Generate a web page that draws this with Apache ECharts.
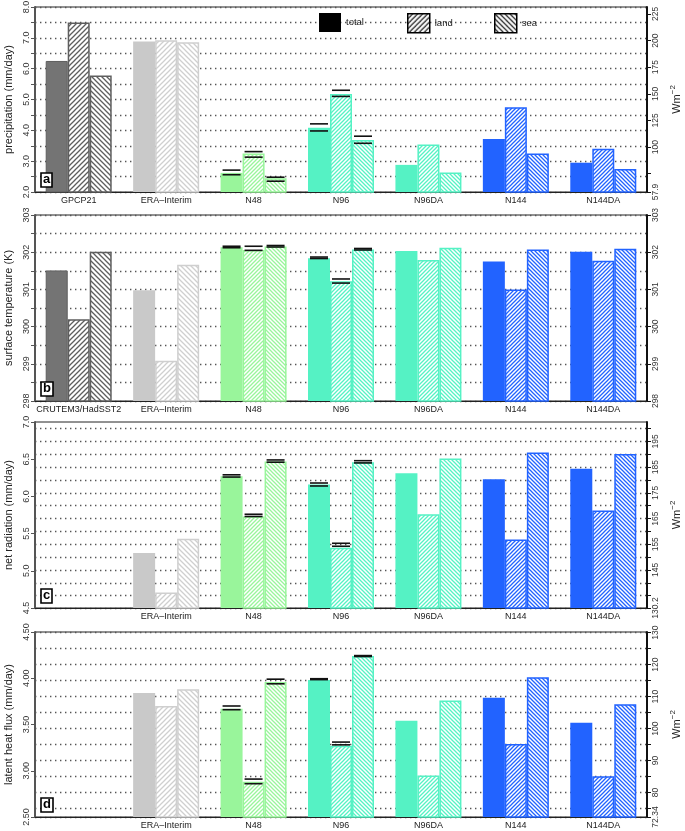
<!DOCTYPE html>
<html><head><meta charset="utf-8">
<script src="https://cdn.jsdelivr.net/npm/echarts@6/dist/echarts.min.js"></script>
<style>html,body{margin:0;padding:0;background:#fff}#c{width:685px;height:831px}</style>
</head><body><div id="c"></div>
<script>
// ---------------- DATA ----------------
const WM2 = 28.935; // mm/day -> W m^-2
const catsA = ['GPCP21', 'ERA\u2013Interim', 'N48', 'N96', 'N96DA', 'N144', 'N144DA'];
const catsB = ['CRUTEM3/HadSST2', 'ERA\u2013Interim', 'N48', 'N96', 'N96DA', 'N144', 'N144DA'];
const catsCD = ['', 'ERA\u2013Interim', 'N48', 'N96', 'N96DA', 'N144', 'N144DA'];

const precipTotal = [6.25, 6.88, 2.62, 4.08, 2.88, 3.72, 2.95];
const precipLand  = [7.50, 6.92, 3.25, 5.18, 3.54, 4.75, 3.40];
const precipSea   = [5.78, 6.86, 2.45, 3.69, 2.63, 3.25, 2.75];
const precipTotalRange = [null, null, [2.56, 2.71], [3.98, 4.21], null, null, null];
const precipLandRange  = [null, null, [3.13, 3.31], [5.10, 5.30], null, null, null];
const precipSeaRange   = [null, null, [2.35, 2.48], [3.58, 3.81], null, null, null];

const tempTotal = [301.51, 300.98, 302.13, 301.84, 302.03, 301.75, 302.01];
const tempLand  = [300.20, 299.08, 302.06, 301.22, 301.79, 301.00, 301.77];
const tempSea   = [302.01, 301.66, 302.15, 302.07, 302.12, 302.07, 302.09];
const tempTotalRange = [null, null, [302.12, 302.16], [301.83, 301.87], null, null, null];
const tempLandRange  = [null, null, [302.05, 302.16], [301.17, 301.28], null, null, null];
const tempSeaRange   = [null, null, [302.14, 302.18], [302.06, 302.10], null, null, null];

const netTotal = [null, 5.24, 6.27, 6.16, 6.31, 6.23, 6.37];
const netLand  = [null, 4.71, 5.73, 5.31, 5.76, 5.42, 5.81];
const netSea   = [null, 5.43, 6.47, 6.46, 6.51, 6.59, 6.57];
const netTotalRange = [null, null, [6.26, 6.29], [6.14, 6.18], null, null, null];
const netLandRange  = [null, null, [5.73, 5.76], [5.33, 5.37], null, null, null];
const netSeaRange   = [null, null, [6.46, 6.49], [6.45, 6.48], null, null, null];

const latTotal = [null, 3.84, 3.67, 3.98, 3.54, 3.79, 3.52];
const latLand  = [null, 3.70, 2.88, 3.27, 2.95, 3.29, 2.94];
const latSea   = [null, 3.88, 3.96, 4.24, 3.76, 4.01, 3.72];
const latTotalRange = [null, null, [3.66, 3.70], [3.985, 3.995], null, null, null];
const latLandRange  = [null, null, [2.86, 2.91], [3.28, 3.31], null, null, null];
const latSeaRange   = [null, null, [3.94, 3.99], [4.235, 4.245], null, null, null];

// tick / label values
const precipRightTicks  = [75, 100, 125, 150, 175, 200, 225];
const precipRightLabels = [57.87, 100, 125, 150, 175, 200, 225];
const tempRightLabels   = [298, 299, 300, 301, 302, 303];
const netRightTicks  = [135, 140, 145, 150, 155, 160, 165, 170, 175, 180, 185, 190, 195, 200];
const netRightLabels = [130.21, 145, 155, 165, 175, 185, 195];
const latRightTicks  = [75, 80, 85, 90, 95, 100, 105, 110, 115, 120, 125, 130];
const latRightLabels = [72.34, 80, 90, 100, 110, 120, 130];

// ---------------- STYLE ----------------
const fillColors   = ['#747474', '#c9c9c9', '#99f59b', '#55f2c4', '#55f2c4', '#2263ff', '#2263ff'];
const borderColors = ['#5e5e5e', '#cfcfcf', '#99f59b', '#55f2c4', '#55f2c4', '#2263ff', '#2263ff'];
const hatchSize    = [5, 5, 4, 4, 4, 4, 4];
const BAR_W = 22;
const FONT = 'Liberation Sans, Arial, sans-serif';

function hatch(color, dir, size, lw) {
  const c = document.createElement('canvas');
  c.width = size; c.height = size;
  const g = c.getContext('2d');
  g.fillStyle = '#fff'; g.fillRect(0, 0, size, size);
  g.strokeStyle = color; g.lineWidth = lw;
  g.beginPath();
  if (dir === '/') {
    g.moveTo(-1, size + 1); g.lineTo(size + 1, -1);
    g.moveTo(-1, 1); g.lineTo(1, -1);
    g.moveTo(size - 1, size + 1); g.lineTo(size + 1, size - 1);
  } else {
    g.moveTo(-1, -1); g.lineTo(size + 1, size + 1);
    g.moveTo(size - 1, -1); g.lineTo(size + 1, 1);
    g.moveTo(-1, size - 1); g.lineTo(1, size + 1);
  }
  g.stroke();
  return { image: c, repeat: 'repeat' };
}

function barItems(vals, kind) {
  return vals.map((v, i) => {
    if (v == null) return null;
    let st;
    if (kind === 'total') {
      st = { color: fillColors[i], borderColor: borderColors[i], borderWidth: i === 0 ? 1 : 0 };
    } else {
      st = { color: hatch(borderColors[i], kind === 'land' ? '/' : '\\', hatchSize[i], 1.3),
             borderColor: borderColors[i], borderWidth: 1.5 };
    }
    return { value: v, itemStyle: st };
  });
}

function rangeItems(ranges, k) {
  const out = [];
  ranges.forEach((r, i) => { if (r) out.push([i, r[0], r[1], k]); });
  return out;
}

const panels = [
  { cats: catsA, total: precipTotal, land: precipLand, sea: precipSea,
    rng: [precipTotalRange, precipLandRange, precipSeaRange],
    top: 7, height: 185, min: 2, max: 8, name: 'precipitation (mm/day)', letter: 'a',
    leftFmt: v => (Math.abs(v - Math.round(v)) < 1e-6 ? v.toFixed(1) : ''), leftSplit: true,
    rMin: 2 * WM2, rMax: 8 * WM2, rTicks: precipRightTicks, rLabels: precipRightLabels, rMinLabel: '57.9',
    rName: true, rSplit: false },
  { cats: catsB, total: tempTotal, land: tempLand, sea: tempSea,
    rng: [tempTotalRange, tempLandRange, tempSeaRange],
    top: 215, height: 186, min: 298, max: 303, name: 'surface temperature (K)', letter: 'b',
    leftFmt: v => (Math.abs(v - Math.round(v)) < 1e-6 ? String(Math.round(v)) : ''), leftSplit: true,
    rMin: 298, rMax: 303, rTicks: tempRightLabels, rLabels: tempRightLabels, rMinLabel: '298',
    rName: false, rSplit: false },
  { cats: catsCD, total: netTotal, land: netLand, sea: netSea,
    rng: [netTotalRange, netLandRange, netSeaRange],
    top: 422, height: 186, min: 4.5, max: 7.0, name: 'net radiation (mm/day)', letter: 'c',
    leftFmt: v => v.toFixed(1), leftSplit: false,
    rMin: 4.5 * WM2, rMax: 7.0 * WM2, rTicks: netRightTicks, rLabels: netRightLabels, rMinLabel: '130.2',
    rName: true, rSplit: true },
  { cats: catsCD, total: latTotal, land: latLand, sea: latSea,
    rng: [latTotalRange, latLandRange, latSeaRange],
    top: 632, height: 185, min: 2.5, max: 4.5, name: 'latent heat flux (mm/day)', letter: 'd',
    leftFmt: v => v.toFixed(2), leftSplit: false,
    rMin: 2.5 * WM2, rMax: 4.5 * WM2, rTicks: latRightTicks, rLabels: latRightLabels, rMinLabel: '72.34',
    rName: true, rSplit: true }
];

const dotted = { color: '#555', width: 1.4, type: [1.4, 3.6] };
const grid = [], xAxis = [], yAxis = [], series = [], title = [];

panels.forEach((p, i) => {
  grid.push({ left: 35, right: 38, top: p.top, height: p.height, show: true,
              outerBoundsMode: 'none', containLabel: false,
              borderColor: '#222', borderWidth: 1, backgroundColor: 'transparent' });
  xAxis.push({ type: 'category', gridIndex: i, data: p.cats,
    axisTick: { show: false }, axisLine: { lineStyle: { color: '#222', width: 1.2 } },
    axisLabel: { interval: 0, fontSize: 9, color: '#222', margin: 4, fontFamily: FONT, hideOverlap: false } });
  yAxis.push({ type: 'value', gridIndex: i, position: 'left', min: p.min, max: p.max, interval: 0.5,
    name: p.name, nameLocation: 'middle', nameGap: 18,
    nameTextStyle: { fontSize: 11, color: '#222', fontFamily: FONT },
    axisLine: { show: true, lineStyle: { color: '#555', width: 2 } },
    axisTick: { show: true, length: 4, lineStyle: { color: '#555' } },
    axisLabel: { rotate: 90, fontSize: 9, color: '#333', margin: 4, formatter: p.leftFmt, fontFamily: FONT,
                 showMinLabel: true, showMaxLabel: true, hideOverlap: false },
    splitLine: { show: p.leftSplit, lineStyle: dotted } });
  yAxis.push({ type: 'value', gridIndex: i, position: 'right', min: p.rMin, max: p.rMax,
    name: p.rName ? 'Wm{s|\u22122}' : '', nameLocation: 'middle', nameGap: 22, nameRotate: 90,
    nameTextStyle: { fontSize: 11, color: '#222', fontFamily: FONT,
      rich: { s: { fontSize: 8, verticalAlign: 'top', padding: [0, 0, 8, 0], fontFamily: FONT } } },
    axisLine: { show: true, lineStyle: { color: '#111', width: 2 } },
    axisTick: { show: true, length: 4, customValues: p.rTicks.concat([p.rMin]), lineStyle: { color: '#111' } },
    axisLabel: { rotate: 90, fontSize: 8.5, color: '#333', margin: 4, customValues: p.rLabels, fontFamily: FONT,
      hideOverlap: false,
      formatter: v => (Math.abs(v - p.rMin) < 0.02 ? p.rMinLabel : String(Math.round(v))) },
    splitLine: { show: p.rSplit, lineStyle: dotted } });

  const kinds = ['total', 'land', 'sea'];
  kinds.forEach((k, j) => {
    series.push({ type: 'bar', name: k, xAxisIndex: i, yAxisIndex: 2 * i, barWidth: BAR_W, barGap: '0%',
      data: barItems(p[k], k), itemStyle: { color: '#000' }, z: 2 });
  });
  kinds.forEach((k, j) => {
    series.push({ type: 'custom', xAxisIndex: i, yAxisIndex: 2 * i, z: 5, silent: true,
      data: rangeItems(p.rng[j], j),
      encode: { x: 0, y: [1, 2] },
      renderItem: (params, api) => {
        const c = api.value(0), kk = api.value(3);
        const a = api.coord([c, api.value(1)]), b = api.coord([c, api.value(2)]);
        const cx = a[0] + (kk - 1) * BAR_W;
        const mk = y => ({ type: 'line', shape: { x1: cx - 9, y1: y, x2: cx + 9, y2: y },
                           style: { stroke: '#111', lineWidth: 1.6 } });
        return { type: 'group', children: [mk(a[1]), mk(b[1])] };
      } });
  });

  title.push({ text: p.letter, left: 41, top: p.top + p.height - 19, padding: [0, 2, 1, 2],
    borderColor: '#000', borderWidth: 1.6, backgroundColor: '#fff',
    textStyle: { fontSize: 13, fontWeight: 'bold', color: '#000', fontFamily: FONT } });
});

const legendBase = { orient: 'horizontal', top: 13, itemWidth: 22, itemHeight: 19, padding: 0,
  selectedMode: false, textStyle: { fontSize: 9.5, color: '#222', fontFamily: FONT } };
const legend = [
  Object.assign({}, legendBase, { left: 319, data: [{ name: 'total', icon: 'rect',
    itemStyle: { color: '#000', borderWidth: 0 } }] }),
  Object.assign({}, legendBase, { left: 407, data: [{ name: 'land', icon: 'rect',
    itemStyle: { color: hatch('#000', '/', 5, 1.2), borderColor: '#000', borderWidth: 1.5 } }] }),
  Object.assign({}, legendBase, { left: 494, data: [{ name: 'sea', icon: 'rect',
    itemStyle: { color: hatch('#000', '\\', 5, 1.2), borderColor: '#000', borderWidth: 1.5 } }] })
];

const chart = echarts.init(document.getElementById('c'), null, { renderer: 'canvas' });
chart.setOption({ animation: false, backgroundColor: '#fff', grid, xAxis, yAxis, series, title, legend });
</script></body></html>
